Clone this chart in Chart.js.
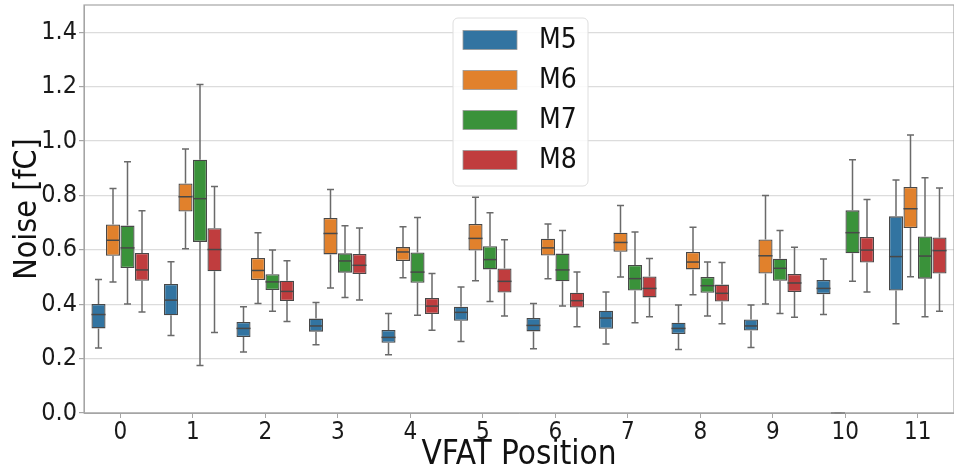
<!DOCTYPE html>
<html>
<head>
<meta charset="utf-8">
<script src="https://cdn.jsdelivr.net/npm/chart.js@4.4.0/dist/chart.umd.min.js"></script>
<style>
html, body { margin: 0; padding: 0; background: #fff; }
#wrap { width: 954px; height: 470px; position: relative; }
</style>
</head>
<body>
<div id="wrap"><canvas id="noiseChart"></canvas></div>
<script>
var positions = ['0', '1', '2', '3', '4', '5', '6', '7', '8', '9', '10', '11'];
var seriesNames = ['M5', 'M6', 'M7', 'M8'];
var seriesColors = ['#3274a1', '#e1812c', '#3a923a', '#c03d3e'];
var yTicks = [0, 0.2, 0.4, 0.6, 0.8, 1.0, 1.2, 1.4];

// per position: [whisker low, q1, median, q3, whisker high]
var m5 = [
  [0.239, 0.311, 0.362, 0.401, 0.491],
  [0.285, 0.359, 0.415, 0.474, 0.556],
  [0.224, 0.279, 0.311, 0.335, 0.391],
  [0.251, 0.299, 0.320, 0.347, 0.406],
  [0.214, 0.258, 0.278, 0.305, 0.366],
  [0.263, 0.339, 0.370, 0.391, 0.463],
  [0.236, 0.300, 0.322, 0.349, 0.403],
  [0.254, 0.310, 0.349, 0.376, 0.445],
  [0.233, 0.290, 0.311, 0.332, 0.397],
  [0.241, 0.303, 0.320, 0.344, 0.397],
  [0.362, 0.437, 0.458, 0.489, 0.566],
  [0.328, 0.450, 0.575, 0.723, 0.857]
];
var m6 = [
  [0.482, 0.578, 0.635, 0.693, 0.825],
  [0.604, 0.741, 0.795, 0.844, 0.971],
  [0.403, 0.489, 0.524, 0.570, 0.663],
  [0.460, 0.583, 0.660, 0.717, 0.822],
  [0.497, 0.559, 0.592, 0.610, 0.685],
  [0.486, 0.597, 0.642, 0.695, 0.793],
  [0.494, 0.579, 0.607, 0.641, 0.695],
  [0.500, 0.593, 0.627, 0.663, 0.763],
  [0.435, 0.528, 0.555, 0.592, 0.683],
  [0.401, 0.513, 0.578, 0.638, 0.800],
  [0, 0, 0, 0, 0],
  [0.501, 0.680, 0.751, 0.831, 1.022]
];
var m7 = [
  [0.401, 0.533, 0.607, 0.689, 0.924],
  [0.175, 0.629, 0.788, 0.931, 1.208],
  [0.374, 0.452, 0.482, 0.510, 0.599],
  [0.425, 0.516, 0.559, 0.587, 0.688],
  [0.359, 0.479, 0.518, 0.590, 0.719],
  [0.410, 0.528, 0.564, 0.613, 0.736],
  [0.393, 0.484, 0.526, 0.586, 0.671],
  [0.332, 0.450, 0.494, 0.544, 0.665],
  [0.357, 0.442, 0.468, 0.500, 0.555],
  [0.366, 0.486, 0.532, 0.567, 0.671],
  [0.484, 0.587, 0.663, 0.745, 0.931],
  [0.354, 0.494, 0.577, 0.649, 0.865]
];
var m8 = [
  [0.371, 0.486, 0.526, 0.588, 0.744],
  [0.296, 0.521, 0.601, 0.679, 0.833],
  [0.336, 0.412, 0.447, 0.486, 0.560],
  [0.415, 0.511, 0.543, 0.585, 0.680],
  [0.304, 0.364, 0.393, 0.423, 0.513],
  [0.357, 0.443, 0.484, 0.531, 0.637],
  [0.317, 0.388, 0.413, 0.442, 0.518],
  [0.354, 0.425, 0.458, 0.502, 0.568],
  [0.328, 0.410, 0.440, 0.472, 0.553],
  [0.352, 0.445, 0.478, 0.511, 0.609],
  [0.445, 0.553, 0.599, 0.647, 0.785],
  [0.374, 0.513, 0.597, 0.645, 0.827]
];
var allStats = [m5, m6, m7, m8];

var fontFamily = "'DejaVu Sans Condensed', 'DejaVu Sans', sans-serif";
var edgeGray = '#484848';
var whiskerGray = '#6a6a6a';

Chart.defaults.font.family = fontFamily;
Chart.defaults.color = '#1a1a1a';

// whiskers, caps and medians on top of the floating q1-q3 bars
var boxWhiskers = {
  id: 'boxWhiskers',
  afterDatasetsDraw: function(chart) {
    var ctx = chart.ctx;
    var y = chart.scales.y;
    ctx.save();
    ctx.lineWidth = 1.5;
    chart.data.datasets.forEach(function(ds, di) {
      var meta = chart.getDatasetMeta(di);
      meta.data.forEach(function(bar, i) {
        var s = ds.stats[i];
        var x = bar.x, w = bar.width;
        var lo = y.getPixelForValue(s[0]);
        var q1 = y.getPixelForValue(s[1]);
        var md = y.getPixelForValue(s[2]);
        var q3 = y.getPixelForValue(s[3]);
        var hi = y.getPixelForValue(s[4]);
        ctx.strokeStyle = whiskerGray;
        ctx.beginPath();
        ctx.moveTo(x, q3); ctx.lineTo(x, hi);
        ctx.moveTo(x, q1); ctx.lineTo(x, lo);
        ctx.moveTo(x - w / 4, hi); ctx.lineTo(x + w / 4, hi);
        ctx.moveTo(x - w / 4, lo); ctx.lineTo(x + w / 4, lo);
        ctx.stroke();
        ctx.strokeStyle = edgeGray;
        ctx.beginPath();
        ctx.moveTo(x - w / 2, md); ctx.lineTo(x + w / 2, md);
        ctx.stroke();
      });
    });
    ctx.restore();
  }
};

// frame + legend box inside the plot
var frameAndLegend = {
  id: 'frameAndLegend',
  afterDraw: function(chart) {
    var ctx = chart.ctx;
    var a = chart.chartArea;
    ctx.save();
    ctx.strokeStyle = '#a6a6a6';
    ctx.lineWidth = 1.2;
    ctx.strokeRect(a.left, a.top, a.right - a.left, a.bottom - a.top);

    var lx = 453, ly = 18, lw = 135, lh = 168;
    ctx.beginPath();
    ctx.roundRect(lx, ly, lw, lh, 5);
    ctx.fillStyle = 'rgba(255,255,255,0.85)';
    ctx.fill();
    ctx.strokeStyle = '#dedede';
    ctx.lineWidth = 1;
    ctx.stroke();

    ctx.font = '28px ' + fontFamily;
    ctx.textBaseline = 'middle';
    chart.data.datasets.forEach(function(ds, i) {
      var cy = 40 + i * 40;
      ctx.fillStyle = ds.backgroundColor;
      ctx.fillRect(463, cy - 9.5, 54, 19);
      ctx.strokeStyle = '#999';
      ctx.lineWidth = 0.8;
      ctx.strokeRect(463, cy - 9.5, 54, 19);
      ctx.fillStyle = '#111';
      ctx.fillText(ds.label, 539, cy + 1);
    });
    ctx.restore();
  }
};

var datasets = seriesNames.map(function(name, i) {
  return {
    label: name,
    data: allStats[i].map(function(s) { return [s[1], s[3]]; }),
    stats: allStats[i],
    backgroundColor: seriesColors[i],
    borderColor: edgeGray,
    borderWidth: 1.3,
    borderSkipped: false,
    categoryPercentage: 0.8,
    barPercentage: 0.97
  };
});

new Chart(document.getElementById('noiseChart'), {
  type: 'bar',
  data: { labels: positions, datasets: datasets },
  options: {
    responsive: true,
    maintainAspectRatio: false,
    animation: false,
    layout: { padding: { top: 5, right: 0, left: 0, bottom: 0 } },
    plugins: {
      legend: { display: false },
      tooltip: { enabled: false }
    },
    scales: {
      x: {
        offset: true,
        grid: { display: true, drawOnChartArea: false, drawTicks: true, tickLength: 5, offset: false, color: '#a6a6a6' },
        border: { display: true, color: '#a6a6a6' },
        ticks: { font: { size: 24 }, padding: 0, maxRotation: 0, color: '#1a1a1a' },
        title: { display: true, text: 'VFAT Position', font: { size: 33 }, padding: { top: 0, bottom: -5 }, color: '#111' },
        afterFit: function(s) { s.height = 57; s.paddingLeft = 0; s.paddingRight = 0; }
      },
      y: {
        min: 0,
        max: 1.5,
        afterBuildTicks: function(s) { s.ticks = yTicks.map(function(v) { return { value: v }; }); },
        grid: { color: '#dcdcdc', lineWidth: 1.2, tickLength: 5, tickColor: '#a6a6a6' },
        border: { display: true, color: '#a6a6a6' },
        ticks: { font: { size: 25 }, padding: 2, color: '#1a1a1a', callback: function(v) { return v.toFixed(1); } },
        title: { display: true, text: 'Noise [fC]', font: { size: 32 }, padding: { top: 8, bottom: 0 }, color: '#111' },
        afterFit: function(s) { s.width = 84; s.paddingTop = 0; s.paddingBottom = 0; }
      }
    }
  },
  plugins: [boxWhiskers, frameAndLegend]
});
</script>
</body>
</html>
